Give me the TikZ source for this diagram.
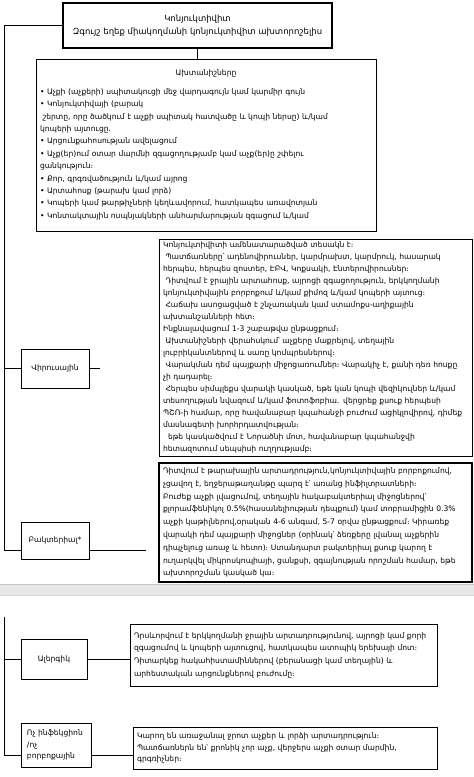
\documentclass[tikz,border=0pt]{standalone}
\usepackage{fontspec}
\setmainfont{DejaVu Sans}
\usetikzlibrary{positioning}

\begin{document}
\begin{tikzpicture}[
    x=1pt, y=-1pt,
    link/.style={line width=0.8pt},
    infobox/.style={draw, line width=0.8pt, align=left, inner xsep=4pt, inner ysep=0pt,
        font=\fontsize{7.6}{12}\selectfont},
    lblbox/.style={draw, line width=0.8pt, align=center,
        font=\fontsize{7.6}{11.5}\selectfont}
]
\useasboundingbox (0,0) rectangle (474,777);

% Title
\node[draw, line width=1.8pt, minimum width=269pt, minimum height=45pt, align=center,
    font=\fontsize{8.5}{13}\selectfont] (title) at (197.5,25.5)
    {Կոնյուկտիվիտ\\Զգույշ եղեք միակողմանի կոնյուկտիվիտ ախտորոշելիս};

% Symptoms
\node[infobox, minimum width=340pt, minimum height=172pt, text width=332pt,
    font=\fontsize{7.6}{12.4}\selectfont] (symptoms) at (206,145) {%
    {\centering Ախտանիշները\par}\vspace{6pt}
    • Աչքի (աչքերի) սպիտակուցի մեջ վարդագույն կամ կարմիր գույն\\
    • Կոնյուկտիվայի (բարակ\\
    \ շերտը, որը ծածկում է աչքի սպիտակ հատվածը և կոպի ներսը) և/կամ\\
    կոպերի այտուցը.\\
    • Արցունքահոսության ավելացում\\
    • Աչք(եր)ում օտար մարմնի  զգացողությամբ կամ աչք(եր)ը շփելու\\
    ցանկություն։\\
    • Քոր, գրգռվածություն և/կամ այրոց\\
    • Արտահոսք (թարախ կամ լորձ)\\
    • Կոպերի կամ թարթիչների կեղևավորում, հատկապես առավոտյան\\
    • Կոնտակտային ոսպնյակների  անհարմարության զգացում և/կամ};

% Viral
\node[lblbox, minimum width=68pt, minimum height=39pt] (viruslbl) at (55,368.5) {Վիրուսային};
\node[infobox, minimum width=313pt, minimum height=217pt, text width=305pt] (virustext) at (315.5,347.5) {%
    Կոնյուկտիվիտի ամենատարածված տեսակն է։\\
    \ Պատճառները՝ ադենովիրուսներ, կարմրախտ, կարմրուկ, հասարակ\\
    հերպես, հերպես զոստեր, ԷԲՎ, Կոքսակի, Էնտերովիրուսներ։\\
    \ Դիտվում է ջրային արտահոսք, այրոցի զգացողություն, երկկողմանի\\
    կոնյուկտիվային բորբոքում և/կամ քիմոզ և/կամ կոպերի այտուց։\\
    \ Հաճախ ասոցացված է շնչառական կամ ստամոքս-աղիքային\\
    ախտանշանների հետ։\\
    Ինքնալավացում 1-3 շաբաթվա ընթացքում։\\
    \ Ախտանիշների վերահսկում՝ աչքերը  մաքրելով, տեղային\\
    լուբրիկանտներով և սառը կոմպրեսներով։\\
    \ Վարակման դեմ պայքարի միջոցառումներ։ Վարակիչ է, քանի դեռ հոսքը\\
    չի դադարել։\\
    \ Հերպես սիմպլեքս վարակի կասկած, եթե կան կոպի վեզիկուլներ և/կամ\\
    տեսողության նվազում և/կամ ֆոտոֆոբիա. վերցրեք քսուք հերպեսի\\
    ՊՇՌ-ի համար, որը հավանաբար կպահանջի բուժում ացիկլովիրով, դիմեք\\
    մասնագետի խորհրդատվության։\\
    \ \ եթե կասկածվում է Նորածնի մոտ, հավանաբար կպահանջվի\\
    հետազոտում սեպսիսի ուղղությամբ։};

% Bacterial
\node[lblbox, minimum width=68pt, minimum height=37pt] (bactlbl) at (55,540.5) {Բակտերիալ*};
\node[infobox, line width=1.8pt, minimum width=313pt, minimum height=119pt, text width=305pt,
    font=\fontsize{7.6}{12.8}\selectfont] (bacttext) at (315.5,522.5) {%
    Դիտվում է թարախային արտադրություն,կոնյուկտիվային բորբոքումով,\\
    չցավող է, եղջերաթաղանթը պարզ է՝ առանց ինֆիլտրատների։\\
    Բուժեք աչքի լվացումով, տեղային հակաբակտերիալ միջոցներով՝\\
    քլորամֆենիկոլ 0.5\%(հասանելիության դեպքում) կամ տոբրամիցին 0.3\%\\
    աչքի կաթիլներով,օրական 4-6 անգամ, 5-7 օրվա ընթացքում։ Կիրառեք\\
    վարակի դեմ պայքարի միջոցներ (օրինակ՝ ձեռքերը լվանալ աչքերին\\
    դիպչելուց առաջ և հետո)։ Ստանդարտ բակտերիալ քսուք կարող է\\
    ուղարկվել միկրոսկոպիայի, ցանքսի, զգայնության որոշման  համար, եթե\\
    ախտորոշման կասկած կա։};

% Spine, upper part
\coordinate (spinebot) at (4,550);
\draw[link] (title.west) -| (spinebot) -- (spinebot -| bactlbl.west);
\draw[link] (spinebot |- viruslbl.west) -- (viruslbl.west);
\draw[link] (title.south) -- (title.south |- symptoms.north);
\coordinate[right=11pt of viruslbl.east] (virusend);
\draw[link] (viruslbl.east) -- (virusend);
\coordinate (bactend) at (146,550);
\draw[link] (bactend -| bactlbl.east) -- (bactend);

% Page gap
\fill[gray!18] (0,584) rectangle (474,595);
\draw[gray!45] (0,584) -- (474,584);
\draw[gray!30] (0,595) -- (474,595);

% Allergic
\node[lblbox, minimum width=66pt, minimum height=40pt] (alglbl) at (54,659) {Ալերգիկ};
\node[infobox, minimum width=307pt, minimum height=62pt, text width=299pt,
    font=\fontsize{7.6}{12.7}\selectfont] (algtext) at (283.5,655) {%
    Դրսևորվում է երկկողմանի ջրային արտադրությունով, այրոցի կամ քորի\\
    զգացումով և կոպերի այտուցով, հատկապես ատոպիկ երեխայի մոտ։\\
    Դիտարկեք հակահիստամիններով (բերանացի կամ տեղային) և\\
    արհեստական արցունքներով բուժումը։};

% Non-infective
\node[lblbox, align=left, minimum width=70pt, minimum height=44pt, text width=58pt] (nonlbl) at (56,745)
    {Ոչ ինֆեկցիոն\\/ոչ\\բորբոքային};
\node[infobox, minimum width=304pt, minimum height=42pt, text width=296pt,
    font=\fontsize{7.6}{11.5}\selectfont] (nontext) at (285,748) {%
    Կարող են առաջանալ ջրոտ աչքեր և լորձի արտադրություն։\\
    Պատճառներն են՝ քրոնիկ չոր աչք, վերջերս աչքի օտար մարմին,\\
    գրգռիչներ։};

% Spine, lower part
\coordinate (spinetop2) at (4,617);
\coordinate (spinebot2) at (4,755);
\draw[link] (spinetop2) -- (spinebot2) -- (spinebot2 -| nonlbl.west);
\draw[link] (spinetop2 |- alglbl.west) -- (alglbl.west);
\draw[link] (alglbl.east) -- (alglbl.east -| algtext.west);
\draw[link] (spinebot2 -| nonlbl.east) -- (spinebot2 -| nontext.west);
\end{tikzpicture}
\end{document}
